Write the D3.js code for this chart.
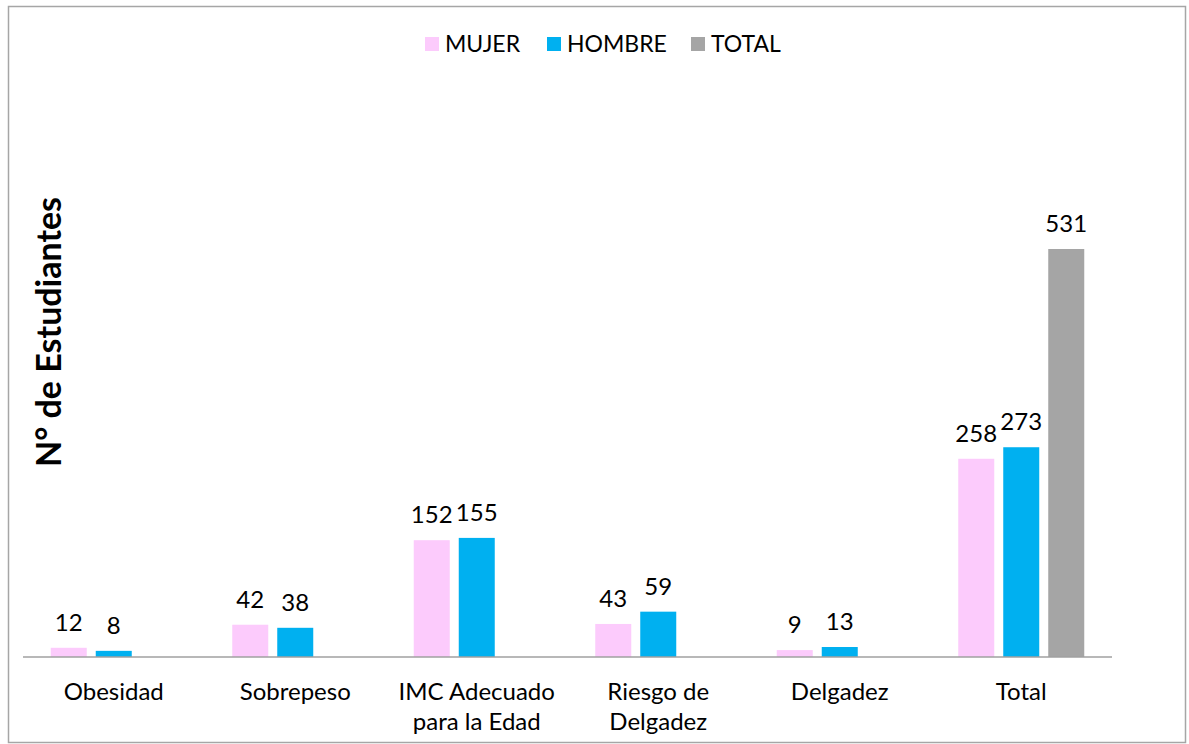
<!DOCTYPE html>
<html>
<head>
<meta charset="utf-8">
<script src="https://cdn.jsdelivr.net/npm/d3@7"></script>
<style>
  body { margin: 0; background: #fff; }
  text { font-family: Lato, "Open Sans", sans-serif; fill: #000; }
</style>
</head>
<body>
<div id="main"></div>
<script>
// data
var categories = ['Obesidad', 'Sobrepeso', 'IMC Adecuado|para la Edad', 'Riesgo de|Delgadez', 'Delgadez', 'Total'];
var series = ['MUJER', 'HOMBRE', 'TOTAL'];
var mujer  = [12, 42, 152, 43, 9, 258];
var hombre = [8, 38, 155, 59, 13, 273];
var total  = [null, null, null, null, null, 531];

var colors = { MUJER: '#fccbfc', HOMBRE: '#00b0f0', TOTAL: '#a5a5a5' };

var W = 1189, H = 744;
var left = 23, right = 1112, baseY = 657;

var svg = d3.select('#main').append('svg')
  .attr('width', W).attr('height', H);

// outer border
svg.append('rect')
  .attr('x', 8.5).attr('y', 6.5)
  .attr('width', 1177).attr('height', 736)
  .attr('fill', 'none').attr('stroke', '#a6a6a6').attr('stroke-width', 1.5);

var x0 = d3.scaleBand().domain(categories).range([left, right]);
var bw = x0.bandwidth();
var x1 = d3.scaleBand().domain(series)
  .range([bw / 2 - 72, bw / 2 + 72])
  .paddingInner(0.2).paddingOuter(0.2);

var y = d3.scaleLinear().domain([0, 531]).range([baseY, 249]);

// build rows from the arrays
var rows = categories.map(function(c, i) {
  return { cat: c, values: [
    { s: 'MUJER', v: mujer[i] },
    { s: 'HOMBRE', v: hombre[i] },
    { s: 'TOTAL', v: total[i] }
  ].filter(function(d) { return d.v != null; }) };
});

var g = svg.selectAll('g.cat')
  .data(rows).enter().append('g')
  .attr('class', 'cat')
  .attr('transform', function(d) { return 'translate(' + x0(d.cat) + ',0)'; });

g.selectAll('rect')
  .data(function(d) { return d.values; })
  .enter().append('rect')
  .attr('x', function(d) { return x1(d.s); })
  .attr('width', x1.bandwidth())
  .attr('y', function(d) { return y(d.v); })
  .attr('height', function(d) { return baseY - y(d.v); })
  .attr('fill', function(d) { return colors[d.s]; });

g.selectAll('text.val')
  .data(function(d) { return d.values; })
  .enter().append('text')
  .attr('class', 'val')
  .attr('x', function(d) { return x1(d.s) + x1.bandwidth() / 2; })
  .attr('y', function(d) { return y(d.v) - 17; })
  .attr('text-anchor', 'middle')
  .style('font-size', '24px')
  .text(function(d) { return d.v; });

// baseline
svg.append('line')
  .attr('x1', left).attr('x2', right)
  .attr('y1', baseY).attr('y2', baseY)
  .attr('stroke', '#a0a0a0').attr('stroke-width', 1.5);

// category labels
var labs = svg.selectAll('text.cat')
  .data(categories).enter().append('text')
  .attr('class', 'cat')
  .attr('text-anchor', 'middle')
  .style('font-size', '24px');
labs.each(function(d) {
  var t = d3.select(this);
  d.split('|').forEach(function(line, i) {
    t.append('tspan')
      .attr('x', x0(d) + bw / 2)
      .attr('y', 700 + i * 30)
      .text(line);
  });
});

// y title
svg.append('text')
  .attr('transform', 'translate(61,332) rotate(-90)')
  .attr('text-anchor', 'middle')
  .style('font-size', '34px')
  .style('font-weight', 'bold')
  .text('N° de Estudiantes');

// legend
var legX = [425, 547, 691];
var leg = svg.selectAll('g.leg')
  .data(series).enter().append('g')
  .attr('class', 'leg')
  .attr('transform', function(d, i) { return 'translate(' + legX[i] + ',37)'; });
leg.append('rect')
  .attr('width', 14).attr('height', 14)
  .attr('fill', function(d) { return colors[d]; });
leg.append('text')
  .attr('x', 20).attr('y', 15)
  .style('font-size', '23px')
  .text(function(d) { return d; });
</script>
</body>
</html>
